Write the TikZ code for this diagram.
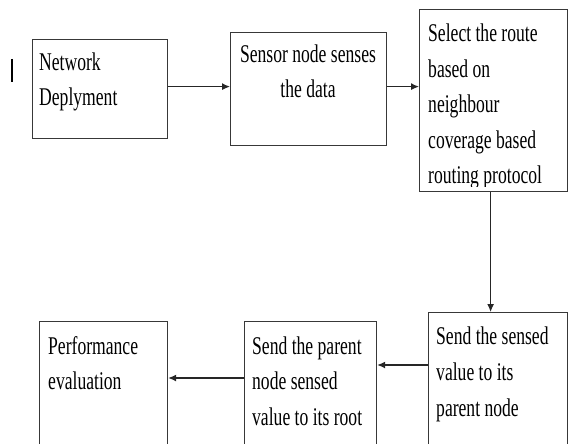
\documentclass[tikz,border=0pt]{standalone}
\usepackage{fontspec}
\setmainfont{Liberation Serif}[FakeStretch=0.69]
\usetikzlibrary{arrows.meta}
\newcommand{\boxlines}[3]{{\fontsize{25.5}{#1}\selectfont\begin{tabular}[t]{@{}#2@{}}#3\end{tabular}}}
\tikzset{
  stepbox/.style={draw=black!78, line width=1.2pt, rectangle, inner sep=0pt, anchor=north west},
  label/.style={inner sep=0pt, anchor=base west},
  flow/.style={draw=black!85, line width=1.1pt, -{Latex[length=8pt,width=7pt]}}
}
\begin{document}
\begin{tikzpicture}[x=1pt,y=-1pt]
\useasboundingbox (0,0) rectangle (568,444);
\clip (0,0) rectangle (568,444);

% boxes of the flow
\node[stepbox, minimum width=135pt, minimum height=99pt]  (deploy)  at (32,39)   {};
\node[stepbox, minimum width=156pt, minimum height=113pt] (sense)   at (230,32)  {};
\node[stepbox, minimum width=148pt, minimum height=182pt] (route)   at (419,9)   {};
\node[stepbox, minimum width=139pt, minimum height=150pt] (toparent) at (428,312) {};
\node[stepbox, minimum width=132pt, minimum height=140pt] (toroot)  at (244,321) {};
\node[stepbox, minimum width=128pt, minimum height=140pt] (perf)    at (39,321)  {};

% texts
\node[label] (tdeploy) at (39,71) {\boxlines{35}{l}{Network\\Deplyment}};
\node[label, anchor=base] (tsense) at (308,63) {\boxlines{34.5}{c}{Sensor node senses\\the data}};
\begin{scope}
  \clip (419,0) rectangle (568,186);
  \node[label] (troute) at (428,42) {\boxlines{35.5}{l}{Select the route\\based on\\neighbour\\coverage based\\routing protocol}};
\end{scope}
\node[label] (ttoparent) at (436,344) {\boxlines{36}{l}{Send the sensed\\value to its\\parent node}};
\node[label] (ttoroot) at (252,354) {\boxlines{35.5}{l}{Send the parent\\node sensed\\value to its root}};
\node[label] (tperf) at (48,354) {\boxlines{35}{l}{Performance\\evaluation}};

% stray mark at the left
\coordinate (barT) at (12,59);
\coordinate (barB) at (12,82);
\draw[line width=1.6pt] (barT) -- (barB);

% connectors
\coordinate (c1) at ([yshift=2.5pt]deploy.east);
\draw[flow] (c1) -- (c1 -| sense.west);
\coordinate (c2) at ([yshift=2.5pt]sense.east);
\draw[flow] (c2) -- (c2 -| route.west);
\coordinate (c3) at ([xshift=-3pt]route.south);
\draw[flow] (c3) -- (c3 |- toparent.north);
\coordinate (c4) at ([yshift=-53pt]toparent.north west);
\draw[flow] (c4) -- (c4 -| toroot.east);
\coordinate (c5) at ([yshift=-57pt]toroot.north west);
\draw[flow] (c5) -- (c5 -| perf.east);
\end{tikzpicture}
\end{document}
